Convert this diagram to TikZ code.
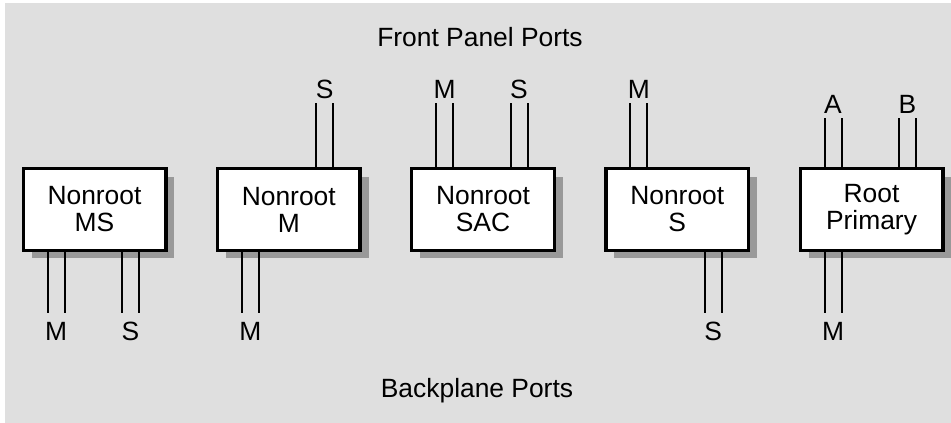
\documentclass[tikz,border=0pt]{standalone}
\usepackage{fontspec}
\setmainfont{Liberation Sans}
\usetikzlibrary{shadows}
\definecolor{bgcol}{HTML}{DFDFDF}
\definecolor{shadecol}{HTML}{999999}
\newcommand\portsdown[3]{%
  \draw[port] ([xshift=#2pt-8.5pt]#1.south) -- ++(0,-61);
  \draw[port] ([xshift=#2pt+8.5pt]#1.south) -- ++(0,-61);
  \node[plabel] at ([xshift=#2pt, yshift=-88pt]#1.south) {#3};}
\newcommand\portsup[4]{%
  \draw[port] ([xshift=#2pt-8.5pt]#1.north) -- ++(0,#4);
  \draw[port] ([xshift=#2pt+8.5pt]#1.north) -- ++(0,#4);
  \node[plabel] at ([xshift=#2pt, yshift=#4pt+5pt]#1.north) {#3};}
\begin{document}
\begin{tikzpicture}[x=1pt,y=1pt,
  unitbox/.style={draw, line width=3.3pt, fill=white, minimum width=142.7pt,
    minimum height=81.7pt, align=center, inner sep=0pt,
    font=\fontsize{26.4}{27}\selectfont,
    drop shadow={shadow xshift=8.5pt, shadow yshift=-8pt, fill=shadecol, opacity=1}},
  port/.style={line width=2pt},
  plabel/.style={font=\fontsize{26.4}{27}\selectfont, anchor=base, inner sep=0pt},
  title/.style={font=\fontsize{26.4}{27}\selectfont, anchor=base, inner sep=0pt}]
\useasboundingbox (0,0) rectangle (951,-423);
\fill[bgcol] (5,-3) rectangle (951,-423);

\node[title] (front) at (480,-46) {Front Panel Ports};
\node[title] (back) at (477,-397) {Backplane Ports};

\node[unitbox] (b1) at (94.5,-209.5) {Nonroot\\MS};
\node[unitbox] (b2) at (288.75,-209.5) {Nonroot\\M};
\node[unitbox] (b3) at (483,-209.5) {Nonroot\\SAC};
\node[unitbox] (b4) at (677.25,-209.5) {Nonroot\\S};
\node[unitbox] (b5) at (871.5,-209.5) {Root\\Primary};

\portsdown{b1}{-38.5}{M}
\portsdown{b1}{36}{S}
\portsdown{b2}{-38.5}{M}
\portsup{b2}{36}{S}{64}
\portsup{b3}{-38.5}{M}{64}
\portsup{b3}{36}{S}{64}
\portsup{b4}{-38.5}{M}{64}
\portsdown{b4}{36}{S}
\portsup{b5}{-38.5}{A}{49}
\portsup{b5}{36}{B}{49}
\portsdown{b5}{-38.5}{M}
\end{tikzpicture}
\end{document}
